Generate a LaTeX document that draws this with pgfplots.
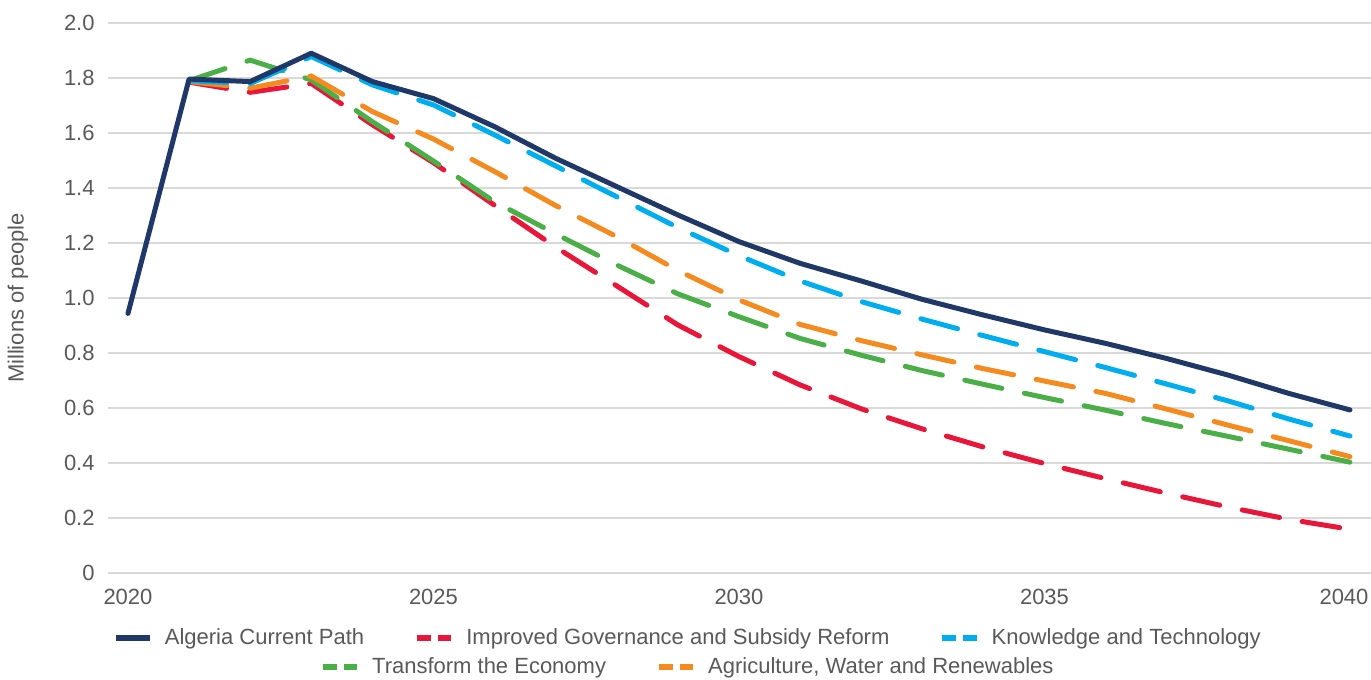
\documentclass[border=0pt]{standalone}
\usepackage{fontspec}
\setmainfont{Liberation Sans}
\usepackage{pgfplots}
\pgfplotsset{compat=1.18}

\definecolor{cpnavy}{HTML}{1F3868}
\definecolor{igred}{HTML}{E8173A}
\definecolor{ktblue}{HTML}{00AEEF}
\definecolor{tegreen}{HTML}{4BAF48}
\definecolor{aworange}{HTML}{F58A1F}
\definecolor{gridgray}{HTML}{D9D9D9}
\definecolor{txtgray}{HTML}{595959}

\pgfplotsset{
  leg solid/.style={legend image code/.code={\draw[##1,line width=3pt,solid] (0cm,0cm) -- (0.6cm,0cm);}},
  leg dash/.style={legend image code/.code={\draw[##1,line width=3pt,line cap=butt,dash pattern=on 7pt off 3.5pt] (0cm,0cm) -- (0.6cm,0cm);}},
  scen/.style={line width=2.5pt, line cap=round, dash pattern=on 19pt off 11.5pt, leg dash},
  common/.style={
    width=631.5pt, height=275pt, scale only axis,
    xmin=2019.673, xmax=2040.344, ymin=0, ymax=2,
    clip=false,
    legend cell align=left,
    legend style={draw=none, fill=none, anchor=center,
      font=\fontsize{11}{13}\selectfont, text=txtgray,
      nodes={inner sep=1pt},
      /tikz/every odd column/.append style={column sep=5pt},
      /tikz/every even column/.append style={column sep=24pt}},
  },
}

\begin{document}
\begin{tikzpicture}
\begin{axis}[
  common,
  xtick={2020,2025,2030,2035,2040},
  xticklabels={2020,2025,2030,2035,\hspace*{-6pt}2040},
  ytick={0,0.2,0.4,0.6,0.8,1.0,1.2,1.4,1.6,1.8,2.0},
  yticklabels={0,0.2,0.4,0.6,0.8,1.0,1.2,1.4,1.6,1.8,2.0},
  axis line style={draw=none},
  major tick length=0pt,
  ymajorgrids=true,
  grid style={color=gridgray, line width=0.9pt},
  ticklabel style={font=\fontsize{11}{13}\selectfont, text=txtgray, inner sep=0pt},
  yticklabel shift=6.5pt,
  xticklabel shift=8pt,
  ylabel={Millions of people},
  ylabel style={at={(axis description cs:-0.0713,0.5)}, anchor=center, rotate=0,
    font=\fontsize{11}{13}\selectfont, text=txtgray},
  legend columns=3,
  legend style={at={(axis description cs:0.459,-0.118)}},
]
% draw order: scenarios first, current path on top
\addplot[igred, scen, forget plot] coordinates {
  (2021,1.785)(2022,1.748)(2023,1.780)(2024,1.630)(2025,1.492)(2026,1.337)(2027,1.185)
  (2028,1.044)(2029,0.902)(2030,0.787)(2031,0.684)(2032,0.597)(2033,0.524)(2034,0.458)
  (2035,0.398)(2036,0.343)(2037,0.290)(2038,0.240)(2039,0.195)(2040,0.159)
};
\addplot[tegreen, scen, forget plot] coordinates {
  (2021,1.790)(2022,1.865)(2023,1.793)(2024,1.641)(2025,1.498)(2026,1.350)(2027,1.233)
  (2028,1.120)(2029,1.015)(2030,0.932)(2031,0.853)(2032,0.792)(2033,0.736)(2034,0.686)
  (2035,0.638)(2036,0.592)(2037,0.543)(2038,0.497)(2039,0.450)(2040,0.403)
};
\addplot[aworange, scen, forget plot] coordinates {
  (2021,1.787)(2022,1.763)(2023,1.807)(2024,1.678)(2025,1.578)(2026,1.460)(2027,1.336)
  (2028,1.223)(2029,1.100)(2030,0.993)(2031,0.904)(2032,0.845)(2033,0.793)(2034,0.743)
  (2035,0.698)(2036,0.653)(2037,0.596)(2038,0.538)(2039,0.481)(2040,0.423)
};
\addplot[ktblue, scen, forget plot] coordinates {
  (2021,1.790)(2022,1.780)(2023,1.878)(2024,1.775)(2025,1.702)(2026,1.593)(2027,1.480)
  (2028,1.368)(2029,1.256)(2030,1.154)(2031,1.062)(2032,0.987)(2033,0.923)(2034,0.863)
  (2035,0.805)(2036,0.747)(2037,0.687)(2038,0.626)(2039,0.560)(2040,0.498)
};
\addplot[cpnavy, line width=2.5pt, line cap=round, line join=round, forget plot] coordinates {
  (2020,0.944)(2021,1.796)(2022,1.787)(2023,1.890)(2024,1.787)(2025,1.725)(2026,1.623)
  (2027,1.508)(2028,1.405)(2029,1.302)(2030,1.205)(2031,1.126)(2032,1.062)(2033,0.995)
  (2034,0.938)(2035,0.884)(2036,0.835)(2037,0.780)(2038,0.720)(2039,0.653)(2040,0.593)
};
\addlegendimage{cpnavy, line width=2.5pt, leg solid}
\addlegendentry{Algeria Current Path}
\addlegendimage{igred, scen}
\addlegendentry{Improved Governance and Subsidy Reform}
\addlegendimage{ktblue, scen}
\addlegendentry{Knowledge and Technology}
\end{axis}
\begin{axis}[
  common,
  hide axis,
  legend columns=2,
  legend style={at={(axis description cs:0.459,-0.171)}},
]
\addlegendimage{tegreen, scen}
\addlegendentry{Transform the Economy}
\addlegendimage{aworange, scen}
\addlegendentry{Agriculture, Water and Renewables}
\end{axis}
\pgfresetboundingbox
\path[use as bounding box] (-54pt,-53.5pt) rectangle (631.5pt,286.5pt);
\end{tikzpicture}
\end{document}
